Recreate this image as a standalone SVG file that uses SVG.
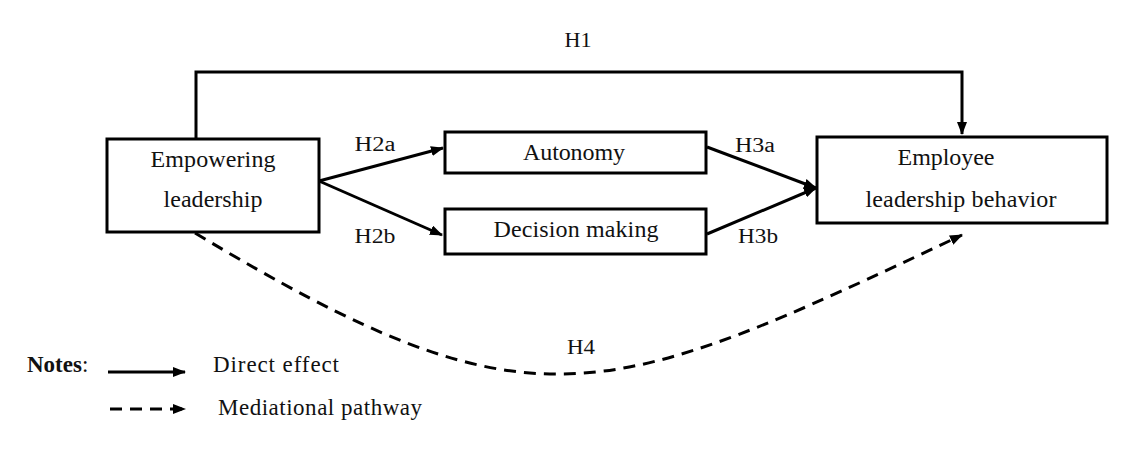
<svg xmlns="http://www.w3.org/2000/svg" width="1139" height="462" viewBox="0 0 1139 462">
  <style>
    .box { fill: #fff; stroke: #000; stroke-width: 3; }
    .t { font-family: "Liberation Serif", "Times New Roman", serif; font-size: 24px; fill: #111; text-anchor: middle; }
    .lbl { font-family: "Liberation Serif", "Times New Roman", serif; font-size: 20px; fill: #111; text-anchor: middle; }
    .leg { font-family: "Liberation Serif", "Times New Roman", serif; font-size: 23px; fill: #111; }
    .edge { fill: none; stroke: #000; stroke-width: 3; }
    .dash { fill: none; stroke: #000; stroke-width: 3; stroke-dasharray: 12 8; }
  </style>
  <defs>
    <marker id="arr" markerUnits="userSpaceOnUse" markerWidth="13" markerHeight="10" refX="12" refY="5" orient="auto">
      <path d="M0,0 L13,5 L0,10 z" fill="#000"/>
    </marker>
  </defs>
  <rect width="1139" height="462" fill="#fff"/>

  <g id="connectors">
    <path class="edge" d="M196,139 V72 H962 V134" marker-end="url(#arr)"/>
    <path class="edge" d="M319,181 L443,148" marker-end="url(#arr)"/>
    <path class="edge" d="M319,181 L442,235" marker-end="url(#arr)"/>
    <path class="edge" d="M707,147 L816,188" marker-end="url(#arr)"/>
    <path class="edge" d="M707,234 L816,188" marker-end="url(#arr)"/>
    <path class="dash" d="M195,233 C533,436 601,405 962,235" marker-end="url(#arr)"/>
    <text class="lbl" x="578" y="47" textLength="27" lengthAdjust="spacingAndGlyphs">H1</text>
    <text class="lbl" x="375" y="151" textLength="41" lengthAdjust="spacingAndGlyphs">H2a</text>
    <text class="lbl" x="375" y="243" textLength="41" lengthAdjust="spacingAndGlyphs">H2b</text>
    <text class="lbl" x="755" y="152" textLength="40" lengthAdjust="spacingAndGlyphs">H3a</text>
    <text class="lbl" x="758" y="243" textLength="40" lengthAdjust="spacingAndGlyphs">H3b</text>
    <text class="lbl" x="581" y="354" textLength="28" lengthAdjust="spacingAndGlyphs">H4</text>
  </g>

  <g id="node-empowering">
    <rect class="box" x="107" y="139" width="212" height="93"/>
    <text class="t" x="213" y="167" textLength="125" lengthAdjust="spacing">Empowering</text>
    <text class="t" x="213" y="207" textLength="99" lengthAdjust="spacing">leadership</text>
  </g>
  <g id="node-autonomy">
    <rect class="box" x="445" y="132" width="261" height="41"/>
    <text class="t" x="574" y="160" textLength="102" lengthAdjust="spacing">Autonomy</text>
  </g>
  <g id="node-decision">
    <rect class="box" x="445" y="209" width="261" height="45"/>
    <text class="t" x="576" y="237" textLength="165" lengthAdjust="spacing">Decision making</text>
  </g>
  <g id="node-employee">
    <rect class="box" x="817" y="137" width="290" height="86"/>
    <text class="t" x="946" y="165" textLength="97" lengthAdjust="spacing">Employee</text>
    <text class="t" x="961" y="207" textLength="191" lengthAdjust="spacing">leadership behavior</text>
  </g>

  <g id="legend">
    <text class="leg" x="27" y="372"><tspan font-weight="bold">Notes</tspan>:</text>
    <path class="edge" d="M108,372 L185,372" marker-end="url(#arr)"/>
    <text class="leg" x="213" y="372" textLength="126" lengthAdjust="spacing">Direct effect</text>
    <path class="dash" d="M110,409 L185,409" stroke-dasharray="13 9" marker-end="url(#arr)"/>
    <text class="leg" x="218" y="415" textLength="204" lengthAdjust="spacing">Mediational pathway</text>
  </g>
</svg>
